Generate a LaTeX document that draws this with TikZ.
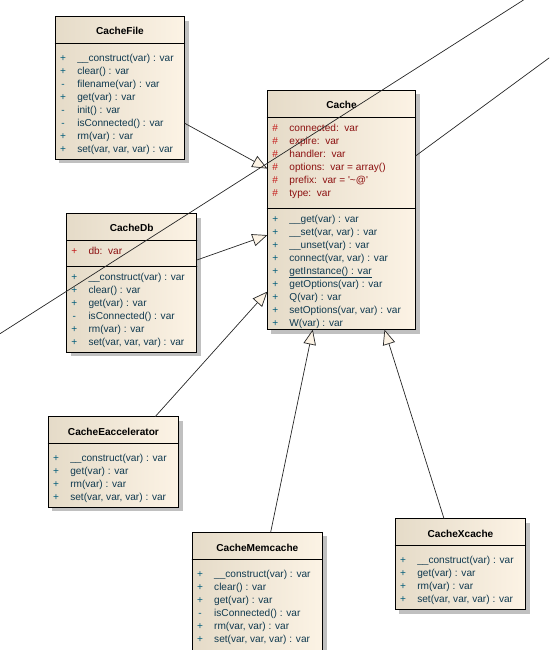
\documentclass[tikz,border=0pt]{standalone}
\usepackage{fontspec}
\setmainfont{Liberation Sans}
\usetikzlibrary{arrows.meta,calc,shadows}

\definecolor{clsdark}{RGB}{229,219,200}
\definecolor{clslight}{RGB}{252,243,229}
\definecolor{shadowgray}{RGB}{192,192,192}
\definecolor{opcol}{RGB}{16,58,80}
\definecolor{opvis}{RGB}{0,92,122}
\definecolor{attcol}{RGB}{140,16,16}
\definecolor{attvis}{RGB}{196,24,24}

\newcommand{\umlfont}{\fontsize{10.1}{12}\selectfont}

\tikzset{
	classbox/.style={draw=black,line width=0.9pt,anchor=north west,inner sep=0,outer sep=0,
		left color=clsdark,right color=clslight,
		drop shadow={shadow xshift=4pt,shadow yshift=-4pt,fill=shadowgray,opacity=1}},
	classname/.style={font=\umlfont\bfseries,inner sep=0,text height=7pt,text depth=0pt},
	sepline/.style={line width=0.9pt},
	vis/.style={font=\umlfont,inner sep=0,text height=7pt,text depth=0pt},
	member/.style={font=\umlfont,anchor=west,inner sep=0,text height=7pt,text depth=0pt},
	genline/.style={draw=black!85,line width=0.7pt,-{Triangle[length=15pt,width=12.5pt,fill=clslight]}},
	assocline/.style={draw=black!85,line width=0.7pt}
}

\begin{document}
\begin{tikzpicture}[x=1pt,y=-1pt,line cap=round]
			\useasboundingbox (0,0) rectangle (549,650);
			% CacheFile
			\node[classbox,minimum width=129.4,minimum height=142.4] (cachefile) at (55.3,16.6) {};
			\draw[sepline] (cachefile.west |- 0,43) -- (cachefile.east |- 0,43);
			\node[classname] (cachefile-name) at (cachefile.north |- 0,31.5) {CacheFile};
			\foreach \v/\m [count=\i from 0] in {+/{\_\_construct(var) : var},+/{clear() : var},-/{filename(var) : var},+/{get(var) : var},-/{init() : var},-/{isConnected() : var},+/{rm(var) : var},+/{set(var, var, var) : var}}{
				\node[vis,text=opvis] (cachefile-v\i) at (63.1,57.6+13*\i) {\v};
				\node[member,text=opcol] (cachefile-m\i) at (77.1,57.6+13*\i) {\m};
			}
			% Cache
			\node[classbox,minimum width=148.2,minimum height=239.2] (cache) at (267.4,90.4) {};
			\draw[sepline] (cache.west |- 0,117.3) -- (cache.east |- 0,117.3);
			\draw[sepline] (cache.west |- 0,208.5) -- (cache.east |- 0,208.5);
			\node[classname] (cache-name) at (cache.north |- 0,105.3) {Cache};
			\foreach \v/\m [count=\i from 0] in {\#/{connected:\ \ var},\#/{expire:\ \ var},\#/{handler:\ \ var},\#/{options:\ \ var = array()},\#/{prefix:\ \ var = \textquotesingle\textasciitilde @\textquotesingle},\#/{type:\ \ var}}{
				\node[vis,text=attvis] (cache-a\i) at (275.2,127.7+13*\i) {\v};
				\node[member,text=attcol] (cache-t\i) at (289.2,127.7+13*\i) {\m};
			}
			\foreach \v/\m [count=\i from 0] in {+/{\_\_get(var) : var},+/{\_\_set(var, var) : var},+/{\_\_unset(var) : var},+/{connect(var, var) : var},+/{\underline{getInstance() : var}},+/{getOptions(var) : var},+/{Q(var) : var},+/{setOptions(var, var) : var},+/{W(var) : var}}{
				\node[vis,text=opvis] (cache-v\i) at (275.2,218.9+12.95*\i) {\v};
				\node[member,text=opcol] (cache-m\i) at (289.2,218.9+12.95*\i) {\m};
			}
			% CacheDb
			\node[classbox,minimum width=130.3,minimum height=138.9] (cachedb) at (66.5,213.5) {};
			\draw[sepline] (cachedb.west |- 0,240.5) -- (cachedb.east |- 0,240.5);
			\draw[sepline] (cachedb.west |- 0,266.6) -- (cachedb.east |- 0,266.6);
			\node[classname] (cachedb-name) at (cachedb.north |- 0,228.4) {CacheDb};
			\node[vis,text=attvis] (cachedb-a0) at (74.3,250.8) {+};
			\node[member,text=attcol] (cachedb-t0) at (88.3,250.8) {db:\ \ var};
			\foreach \v/\m [count=\i from 0] in {+/{\_\_construct(var) : var},+/{clear() : var},+/{get(var) : var},-/{isConnected() : var},+/{rm(var) : var},+/{set(var, var, var) : var}}{
				\node[vis,text=opvis] (cachedb-v\i) at (74.3,276.5+13*\i) {\v};
				\node[member,text=opcol] (cachedb-m\i) at (88.3,276.5+13*\i) {\m};
			}
			% CacheEaccelerator
			\node[classbox,minimum width=130.3,minimum height=90.3] (cacheeacc) at (48.3,416.7) {};
			\draw[sepline] (cacheeacc.west |- 0,443.6) -- (cacheeacc.east |- 0,443.6);
			\node[classname] (cacheeacc-name) at (cacheeacc.north |- 0,431.6) {CacheEaccelerator};
			\foreach \v/\m [count=\i from 0] in {+/{\_\_construct(var) : var},+/{get(var) : var},+/{rm(var) : var},+/{set(var, var, var) : var}}{
				\node[vis,text=opvis] (cacheeacc-v\i) at (56.1,457.7+13*\i) {\v};
				\node[member,text=opcol] (cacheeacc-m\i) at (70.1,457.7+13*\i) {\m};
			}
			% CacheMemcache
			\node[classbox,minimum width=130.3,minimum height=128] (cachemem) at (192.2,532.3) {};
			\draw[sepline] (cachemem.west |- 0,559.3) -- (cachemem.east |- 0,559.3);
			\node[classname] (cachemem-name) at (cachemem.north |- 0,547.7) {CacheMemcache};
			\foreach \v/\m [count=\i from 0] in {+/{\_\_construct(var) : var},+/{clear() : var},+/{get(var) : var},-/{isConnected() : var},+/{rm(var, var) : var},+/{set(var, var, var) : var}}{
				\node[vis,text=opvis] (cachemem-v\i) at (200,573.8+13*\i) {\v};
				\node[member,text=opcol] (cachemem-m\i) at (214,573.8+13*\i) {\m};
			}
			% CacheXcache
			\node[classbox,minimum width=130.3,minimum height=90.8] (cachexc) at (395.3,518.7) {};
			\draw[sepline] (cachexc.west |- 0,545.6) -- (cachexc.east |- 0,545.6);
			\node[classname] (cachexc-name) at (cachexc.north |- 0,533.6) {CacheXcache};
			\foreach \v/\m [count=\i from 0] in {+/{\_\_construct(var) : var},+/{get(var) : var},+/{rm(var) : var},+/{set(var, var, var) : var}}{
				\node[vis,text=opvis] (cachexc-v\i) at (403.1,559.7+13*\i) {\v};
				\node[member,text=opcol] (cachexc-m\i) at (417.1,559.7+13*\i) {\m};
			}
			% generalizations
			\draw[genline] ($(cachefile.north east)!0.749!(cachefile.south east)$) -- ($(cache.north west)!0.327!(cache.south west)$);
			\draw[genline] ($(cachedb.north east)!0.335!(cachedb.south east)$) -- ($(cache.north west)!0.605!(cache.south west)$);
			\draw[genline] ($(cacheeacc.north west)!0.82!(cacheeacc.north east)$) -- ($(cache.north west)!0.841!(cache.south west)$);
			\draw[genline] ($(cachemem.north west)!0.602!(cachemem.north east)$) -- ($(cache.south west)!0.306!(cache.south east)$);
			\draw[genline] ($(cachexc.north west)!0.374!(cachexc.north east)$) -- ($(cache.south west)!0.79!(cache.south east)$);
			% links leaving the view
			\coordinate (farleft) at (0,333.7);
			\coordinate (fartop) at (523.5,0);
			\coordinate (farright) at (549,58);
			\draw[assocline] (farleft) -- (fartop);
			\draw[assocline] ($(cache.north east)!0.274!(cache.south east)$) -- (farright);
		\end{tikzpicture}
\end{document}
